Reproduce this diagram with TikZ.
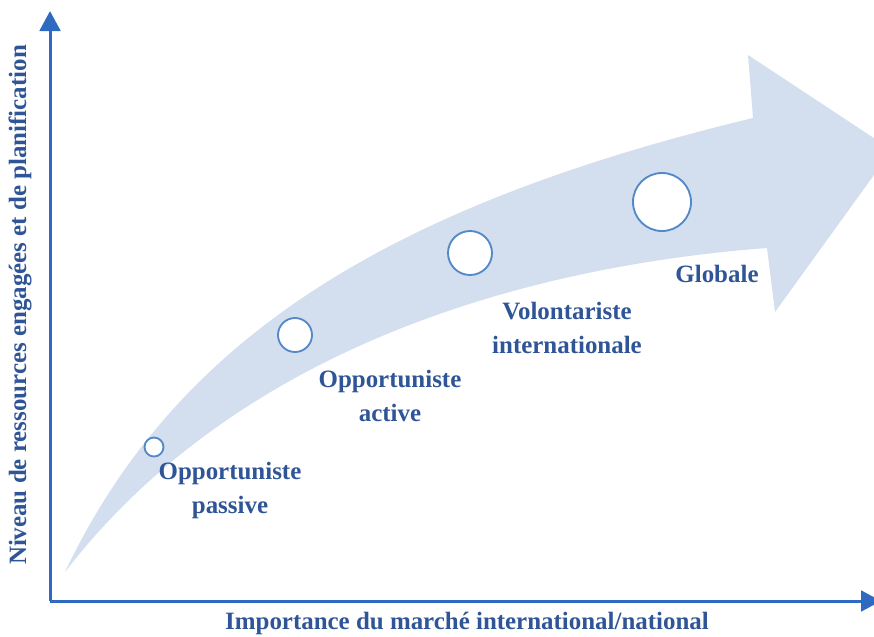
\documentclass[tikz,border=0pt]{standalone}
\usepackage{fontspec}
\setmainfont{Liberation Serif}
\usepackage{tikz}
\usetikzlibrary{arrows.meta}

\definecolor{axisblue}{RGB}{46,106,192}
\definecolor{textblue}{RGB}{47,85,151}
\definecolor{bandblue}{RGB}{211,222,239}
\definecolor{ringblue}{RGB}{84,137,200}

\tikzset{
  axe/.style={line width=2.25pt, color=axisblue, -{Triangle[length=15pt,width=15.5pt]}},
  stage/.style={circle, draw=ringblue, line width=1.4pt, fill=white, inner sep=0pt},
  lbl/.style={text=textblue, font=\bfseries\fontsize{18.7}{25.5}\selectfont, align=center, inner sep=0pt}
}

\begin{document}
\begin{tikzpicture}[x=0.75pt, y=-0.75pt]

\useasboundingbox (0,0) rectangle (874,636);
\clip (0,0) rectangle (874,636);

% the curved arrow
\fill [bandblue] (65,572) .. controls (177,336) and (392,205) .. (753,118)
  -- (748,55) -- (892,150) -- (775,312) -- (767,248)
  .. controls (530,266) and (240,345) .. (65,572) -- cycle;

% axes
\coordinate (origin) at (50,601);
\coordinate (xend) at (881,601);
\coordinate (yend) at (50,11);

\draw [axe] (origin) -- (yend);
\draw [axe] (origin) -- (xend);

\node (xlabel) at (467,623) [lbl] {Importance du march\'e international/national};
\node (ylabel) at (20,305) [lbl, rotate=90] {Niveau de ressources engag\'ees et de planification};

% stages
\node (s1) at (154,447) [stage, minimum size=19*0.75pt] {};
\node (s2) at (295,335) [stage, minimum size=34*0.75pt] {};
\node (s3) at (470,253) [stage, minimum size=44*0.75pt] {};
\node (s4) at (662,202) [stage, minimum size=58*0.75pt] {};

\node (l1) at (230,490) [lbl] {Opportuniste\\passive};
\node (l2) at (390,396) [lbl] {Opportuniste\\active};
\node (l3) at (567,328) [lbl] {Volontariste\\internationale};
\node (l4) at (717,274) [lbl] {Globale};

\end{tikzpicture}
\end{document}
